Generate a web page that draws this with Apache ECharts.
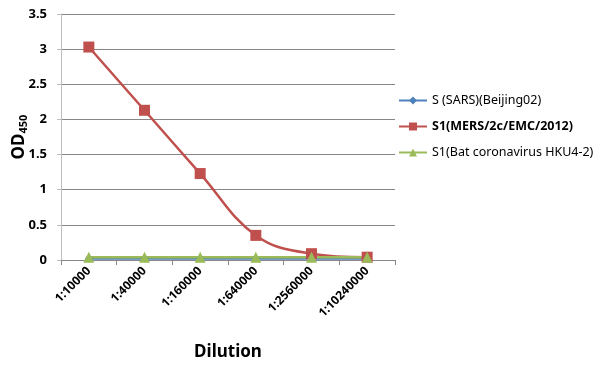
<!DOCTYPE html>
<html><head><meta charset="utf-8">
<script src="https://cdn.jsdelivr.net/npm/echarts@6/dist/echarts.min.js"></script>
<style>html,body{margin:0;padding:0;background:#fff}#c{width:598px;height:372px}</style>
</head><body><div id="c"></div>
<script>
var categories = ['1:10000','1:40000','1:160000','1:640000','1:2560000','1:10240000'];
var sars = [0.02, 0.02, 0.02, 0.02, 0.02, 0.02];
var mers = [3.03, 2.13, 1.23, 0.35, 0.09, 0.04];
var bat = [0.04, 0.04, 0.04, 0.04, 0.04, 0.04];
var yTicks = [0, 0.5, 1, 1.5, 2, 2.5, 3, 3.5];
var names = ['S (SARS)(Beijing02)', 'S1(MERS/2c/EMC/2012)', 'S1(Bat coronavirus HKU4-2)'];

var font = 'Noto Sans, DejaVu Sans, sans-serif';
var chart = echarts.init(document.getElementById('c'));
chart.setOption({
  animation: false,
  grid: {left: 61, right: 203, top: 14, bottom: 112, containLabel: false, outerBoundsMode: 'none'},
  legend: {
    orient: 'vertical', left: 393, top: 89, itemGap: 13,
    itemWidth: 28, itemHeight: 10,
    textStyle: {fontFamily: font, fontSize: 12.5, color: '#000'},
    data: [
      {name: names[0]},
      {name: names[1], textStyle: {fontWeight: 'bold'}},
      {name: names[2]}
    ]
  },
  xAxis: {
    type: 'category', data: categories, boundaryGap: true,
    axisLine: {lineStyle: {color: '#868686'}},
    axisTick: {show: true, lineStyle: {color: '#868686'}},
    axisLabel: {rotate: 45, fontFamily: font, fontSize: 12, fontWeight: 'bold', color: '#000', interval: 0, margin: 9},
    name: 'Dilution', nameLocation: 'middle', nameGap: 84, nameMoveOverlap: false,
    nameTextStyle: {fontFamily: font, fontSize: 17, fontWeight: 'bold', color: '#000'}
  },
  yAxis: {
    type: 'value', min: 0, max: 3.5, interval: 0.5,
    axisLine: {show: true, lineStyle: {color: '#bfbfbf'}},
    axisTick: {show: true, length: 4, lineStyle: {color: '#bfbfbf'}},
    splitLine: {lineStyle: {color: '#868686'}},
    axisLabel: {fontFamily: font, fontSize: 13, fontWeight: 'bold', color: '#000', margin: 14,
      formatter: function (v) { return yTicks.indexOf(v) >= 0 ? String(v) : ''; }},
    name: '{a|OD}{b|450}', nameLocation: 'middle', nameGap: 32, nameRotate: 90, nameMoveOverlap: false,
    nameTextStyle: {rich: {
      a: {fontFamily: font, fontSize: 17, fontWeight: 'bold', color: '#000'},
      b: {fontFamily: font, fontSize: 11, fontWeight: 'bold', color: '#000', verticalAlign: 'bottom', padding: [8, 0, 0, 0]}
    }}
  },
  series: [
    {name: names[0], type: 'line', data: sars, smooth: true, symbol: 'diamond', symbolSize: 8,
     itemStyle: {color: '#4F81BD'}, lineStyle: {width: 2.5, color: '#4F81BD'}},
    {name: names[1], type: 'line', data: mers, smooth: 0.4, symbol: 'rect', symbolSize: 11,
     itemStyle: {color: '#C0504D'}, lineStyle: {width: 2.5, color: '#C0504D'}},
    {name: names[2], type: 'line', data: bat, smooth: true, symbol: 'triangle', symbolSize: 11,
     itemStyle: {color: '#9BBB59'}, lineStyle: {width: 2.5, color: '#9BBB59'}}
  ]
});
</script></body></html>
